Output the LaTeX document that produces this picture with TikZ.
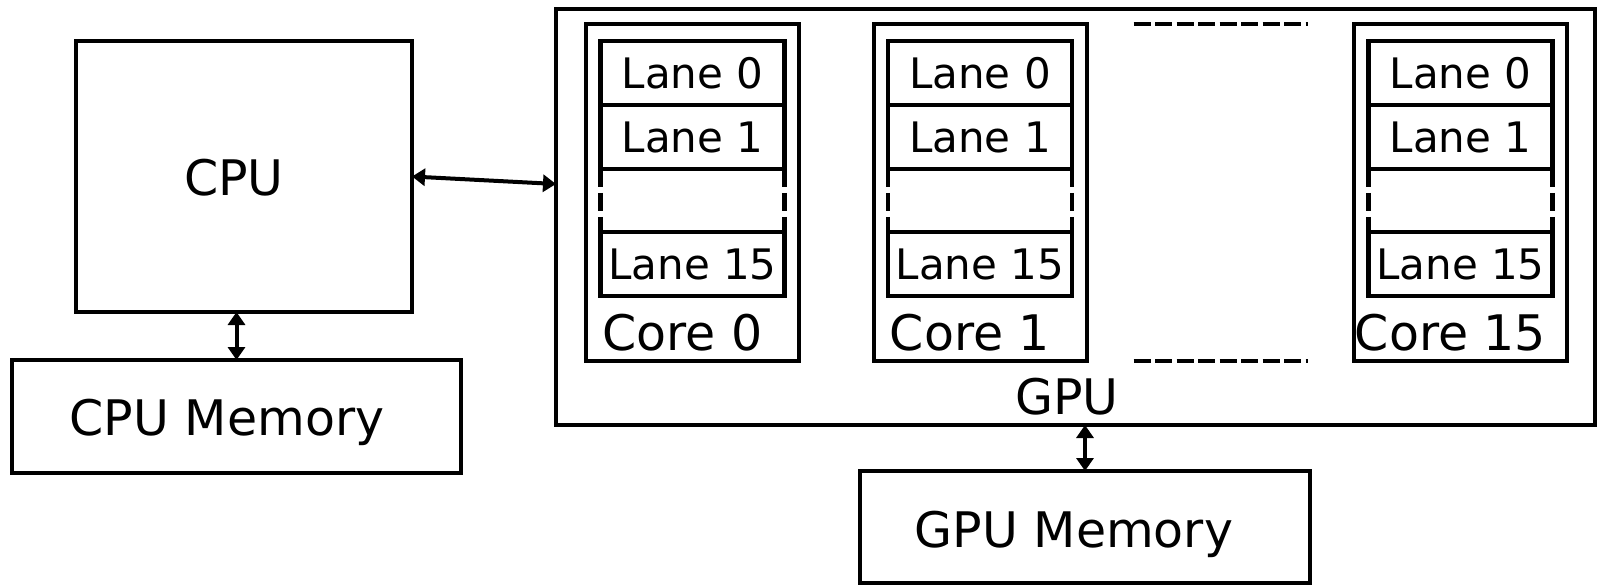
\documentclass[tikz,border=0pt]{standalone}
\usepackage{fontspec}
\setmainfont{DejaVu Sans}
\usetikzlibrary{arrows.meta}
\tikzset{gpusec/.style={x=0.5pt,y=0.5pt,font=\fontsize{24.5}{29}\selectfont},
  blk/.style={draw,line width=2pt,inner sep=0pt,outer sep=0pt},
  lanebox/.style={blk,line width=2.4pt,minimum width=92pt,minimum height=32pt,font=\fontsize{21}{25}\selectfont},
  link/.style={{Triangle[length=6.5pt,width=8.5pt]}-{Triangle[length=6.5pt,width=8.5pt]},line width=2pt}}

\begin{document}
\begin{tikzpicture}[gpusec]
    \useasboundingbox (0,0) rectangle (1597,585);
    \node[blk,minimum width=168pt,minimum height=135.5pt] (cpu) at (244,408.5) {};
    \node[anchor=base] (cpulbl) at (234,389) {CPU};
    \node[blk,minimum width=224.5pt,minimum height=56.5pt] (cpumem) at (236.5,168.5) {};
    \node[anchor=base] (cpumemlbl) at (227,150) {CPU Memory};
    \node[blk,line width=1.6pt,minimum width=519.5pt,minimum height=208pt] (gpu) at (1075.5,368) {};
    \node[anchor=base] (gpulbl) at (1067,171) {GPU};
    \node[blk,minimum width=225pt,minimum height=56pt] (gpumem) at (1085,58) {};
    \node[anchor=base] (gpumemlbl) at (1074,38) {GPU Memory};
    \foreach \i/\x in {0/692.5,1/980,15/1460.5} {
      \node[blk,minimum width=106.5pt,minimum height=168.5pt] (core\i) at (\x,392.5) {};
      \node[lanebox] (core\i-l0) at (\x,512) {Lane 0};
      \node[lanebox] (core\i-l1) at (\x,448) {Lane 1};
      \node[lanebox] (core\i-l15) at (\x,321) {Lane 15};
      \draw[line width=2.2pt,dash pattern=on 9pt off 3pt]
        (core\i-l1.south west) -- (core\i-l15.north west)
        (core\i-l1.south east) -- (core\i-l15.north east);
      \node[anchor=base] (core\i-lbl) at ({\x-10},235) {Core \i};
    }
    % more cores in between
    \draw[line width=2pt,dash pattern=on 8.5pt off 2.25pt] ([xshift=23.5pt]core1.north east) -- ([xshift=-23pt]core15.north west);
    \draw[line width=2pt,dash pattern=on 8.5pt off 2.25pt] ([xshift=23.5pt]core1.south east) -- ([xshift=-23pt]core15.south west);
    \draw[link] (cpu.east) -- ([yshift=16.5pt]gpu.west);
    \draw[link] (cpumem.north) -- (cpumem.north |- cpu.south);
    \draw[link] (gpumem.north) -- (gpumem.north |- gpu.south);
\end{tikzpicture}
\end{document}
